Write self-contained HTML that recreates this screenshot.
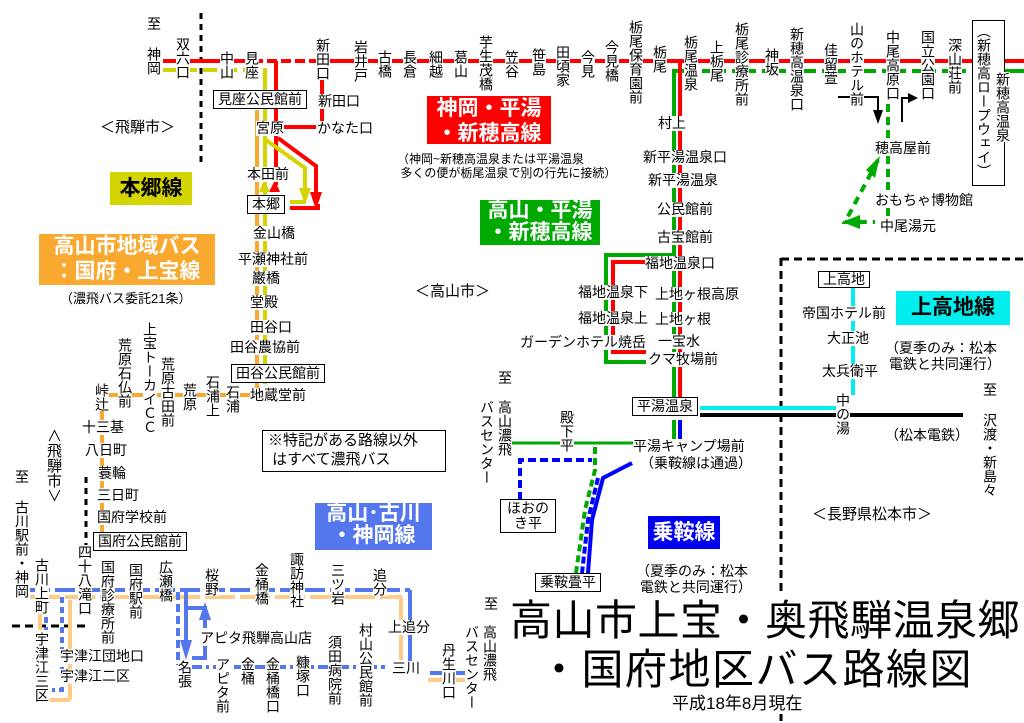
<!DOCTYPE html>
<html><head><meta charset="utf-8"><style>
body{margin:0;width:1024px;height:723px;background:#fff;position:relative;overflow:hidden}
.l{position:absolute;font:14px/15px "Liberation Sans","Noto Sans CJK JP",sans-serif;background:#fff;white-space:nowrap;color:#000}
.v{writing-mode:vertical-rl;text-orientation:upright;line-height:14px;width:14px}
.n{background:transparent}
.b{border:1px solid #000;padding:1px 4px}
.box{position:absolute;font:bold 21px/25px "Liberation Sans","Noto Sans CJK JP",sans-serif;text-align:center;color:#fff}
svg{position:absolute;left:0;top:0}
</style></head><body>
<svg width="1024" height="723" viewBox="0 0 1024 723">
<g fill="none" stroke-linecap="butt">
<line x1="201" y1="13" x2="201" y2="165" stroke="#000" stroke-width="3" stroke-dasharray="6,5"/>
<line x1="86" y1="477" x2="86" y2="592" stroke="#000" stroke-width="3" stroke-dasharray="6,5"/>
<line x1="12" y1="626" x2="85" y2="626" stroke="#000" stroke-width="3" stroke-dasharray="8,5"/>
<line x1="781" y1="258" x2="781" y2="723" stroke="#000" stroke-width="3" stroke-dasharray="8,5"/>
<line x1="781" y1="259" x2="1024" y2="259" stroke="#000" stroke-width="3" stroke-dasharray="8,5"/>
<line x1="163" y1="61" x2="1024" y2="61" stroke="#f00" stroke-width="4"/>
<line x1="263" y1="61" x2="323" y2="61" stroke="#fff" stroke-width="5" stroke-dasharray="4,10"/>
<line x1="163" y1="70" x2="267" y2="70" stroke="#d4d400" stroke-width="4" stroke-dasharray="14,6"/>
<polyline points="265,70 265,228" stroke="#d4d400" stroke-width="4"/>
<line x1="672" y1="71" x2="1024" y2="71" stroke="#0a0" stroke-width="4" stroke-dasharray="24,6"/>
<line x1="276" y1="61" x2="276" y2="185" stroke="#f00" stroke-width="4"/>
<line x1="322" y1="61" x2="322" y2="127" stroke="#f00" stroke-width="4"/>
<line x1="283" y1="127" x2="316" y2="127" stroke="#f00" stroke-width="4"/>
<polyline points="278,138 316,166 316,200" stroke="#f00" stroke-width="4"/>
<polygon points="310,192 322,192 316,210" fill="#f00"/>
<polyline points="290,208 318,208 318,204" stroke="#f00" stroke-width="4"/>
<polyline points="266,140 305,168 305,195" stroke="#d4d400" stroke-width="4"/>
<polygon points="299,188 311,188 305,204" fill="#d4d400"/>
<line x1="290" y1="202" x2="306" y2="202" stroke="#d4d400" stroke-width="4"/>
<polygon points="270,180 281,180 275,192" fill="#f00" transform="rotate(180 275 186)"/>
<polygon points="259,192 270,192 264,180" fill="#d4d400"/>
<line x1="257" y1="110" x2="257" y2="395" stroke="#f9a830" stroke-width="4"/>
<line x1="265" y1="215" x2="265" y2="384" stroke="#d4d400" stroke-width="4"/>
<line x1="100" y1="395" x2="257" y2="395" stroke="#f9a830" stroke-width="4"/>
<line x1="102" y1="395" x2="102" y2="540" stroke="#f9a830" stroke-width="4"/>
<line x1="674" y1="71" x2="674" y2="400" stroke="#0a0" stroke-width="4"/>
<line x1="680" y1="61" x2="680" y2="400" stroke="#f00" stroke-width="4"/>
<polyline points="672,255 606,255 606,362 646,362" stroke="#0a0" stroke-width="4"/>
<polyline points="660,262 613,262 613,352 646,352" stroke="#f00" stroke-width="4"/>
<line x1="674" y1="420" x2="674" y2="443" stroke="#0a0" stroke-width="4"/>
<line x1="680" y1="420" x2="680" y2="440" stroke="#00f" stroke-width="4"/>
<line x1="700" y1="408" x2="836" y2="408" stroke="#0ee" stroke-width="4"/>
<line x1="700" y1="415" x2="963" y2="415" stroke="#000" stroke-width="4"/>
<line x1="853" y1="288" x2="853" y2="395" stroke="#0ee" stroke-width="4"/>
<line x1="512" y1="443" x2="634" y2="443" stroke="#0a0" stroke-width="3"/>
<polyline points="520,500 520,460 592,460" stroke="#00f" stroke-width="4" stroke-dasharray="8,4"/>
<polyline points="595,447 595,470 585,510 576,573" stroke="#0a0" stroke-width="4" stroke-dasharray="7,4"/>
<polyline points="632,463 603,478 592,520 588,573" stroke="#00f" stroke-width="4"/>
<polyline points="598,478 588,520 582,573" stroke="#00f" stroke-width="4" stroke-dasharray="7,3"/>
<line x1="888" y1="104" x2="888" y2="222" stroke="#0a0" stroke-width="4" stroke-dasharray="8,5"/>
<polyline points="878,160 845,222 875,222" stroke="#0a0" stroke-width="4" stroke-dasharray="8,6"/>
<polygon points="880,156 866,170 875,178" fill="#0a0"/>
<polygon points="842,222 860,215 860,229" fill="#0a0"/>
<polyline points="838,97 878,97 878,112" stroke="#000" stroke-width="2"/>
<polygon points="873,110 883,110 878,124" fill="#000"/>
<polyline points="902,122 902,98 910,98" stroke="#000" stroke-width="2"/>
<polygon points="908,93 918,98 908,103" fill="#000"/>
<line x1="30" y1="590" x2="410" y2="590" stroke="#5577ee" stroke-width="4" stroke-dasharray="20,5"/>
<line x1="30" y1="597" x2="402" y2="597" stroke="#fc8" stroke-width="4" stroke-dasharray="30,5"/>
<line x1="410" y1="590" x2="410" y2="665" stroke="#5577ee" stroke-width="4"/>
<line x1="401" y1="597" x2="401" y2="660" stroke="#fc8" stroke-width="4"/>
<line x1="430" y1="673" x2="468" y2="673" stroke="#5577ee" stroke-width="4"/>
<line x1="428" y1="680" x2="468" y2="680" stroke="#fc8" stroke-width="4"/>
<line x1="40" y1="597" x2="40" y2="630" stroke="#fc8" stroke-width="4"/>
<line x1="46" y1="597" x2="46" y2="630" stroke="#5577ee" stroke-width="4" stroke-dasharray="6,4"/>
<line x1="70" y1="600" x2="70" y2="700" stroke="#fc8" stroke-width="4"/>
<polyline points="62,597 62,690 52,690" stroke="#5577ee" stroke-width="4" stroke-dasharray="6,4"/>
<line x1="50" y1="700" x2="70" y2="700" stroke="#fc8" stroke-width="4"/>
<line x1="178" y1="592" x2="178" y2="665" stroke="#5577ee" stroke-width="4" stroke-dasharray="8,4"/>
<line x1="186" y1="592" x2="186" y2="650" stroke="#5577ee" stroke-width="4"/>
<polygon points="180,640 192,640 186,660" fill="#5577ee"/>
<polyline points="186,608 205,608 205,628" stroke="#5577ee" stroke-width="4"/>
<polygon points="199,620 211,620 205,602" fill="#5577ee"/>
<polyline points="205,645 205,658 192,658" stroke="#5577ee" stroke-width="4"/>
<line x1="192" y1="667" x2="385" y2="667" stroke="#5577ee" stroke-width="4" stroke-dasharray="10,4,3,4"/>
</g>
</svg>

<div class="l" style="left:147px;top:17px">至</div>
<div class="l v" style="left:147px;top:47px">神岡</div>
<div class="l v" style="left:176px;top:37px">双六口</div>
<div class="l v" style="left:220px;top:51px">中山</div>
<div class="l v" style="left:245px;top:51px">見座</div>
<div class="l v" style="left:316px;top:38px">新田口</div>
<div class="l v" style="left:354px;top:40px">岩井戸</div>
<div class="l v" style="left:378px;top:50px">古橋</div>
<div class="l v" style="left:403px;top:50px">長倉</div>
<div class="l v" style="left:429px;top:50px">細越</div>
<div class="l v" style="left:454px;top:50px">葛山</div>
<div class="l v" style="left:479px;top:35px">芋生茂橋</div>
<div class="l v" style="left:505px;top:50px">笠谷</div>
<div class="l v" style="left:532px;top:48px">笹島</div>
<div class="l v" style="left:556px;top:45px">田頃家</div>
<div class="l v" style="left:581px;top:50px">今見</div>
<div class="l v" style="left:605px;top:40px">今見橋</div>
<div class="l v" style="left:629px;top:20px">栃尾保育園前</div>
<div class="l v" style="left:653px;top:45px">栃尾</div>
<div class="l v" style="left:684px;top:35px">栃尾温泉</div>
<div class="l v" style="left:710px;top:40px">上栃尾</div>
<div class="l v" style="left:735px;top:22px">栃尾診療所前</div>
<div class="l v" style="left:765px;top:48px">神坂</div>
<div class="l v" style="left:790px;top:27px">新穂高温泉口</div>
<div class="l v" style="left:824px;top:43px">佳留萱</div>
<div class="l v" style="left:850px;top:22px">山のホテル前</div>
<div class="l v" style="left:886px;top:30px">中尾高原口</div>
<div class="l v" style="left:921px;top:30px">国立公園口</div>
<div class="l v" style="left:948px;top:38px">深山荘前</div>
<div class="l" style="left:972px;top:20px;width:31px;height:164px;border:1px solid #000;padding:0"></div>
<div class="l v n" style="left:977px;top:24px">（新穂高ロープウェイ）</div>
<div class="l v" style="left:996px;top:72px">新穂高温泉</div>

<div class="l b" style="left:213px;top:90px">見座公民館前</div>
<div class="l" style="left:318px;top:94px">新田口</div>
<div class="l" style="left:256px;top:121px">宮原</div>
<div class="l" style="left:317px;top:121px">かなた口</div>
<div class="l" style="left:100px;top:120px;font-size:15px">＜飛騨市＞</div>
<div class="l" style="left:247px;top:167px">本田前</div>
<div class="l b" style="left:247px;top:195px">本郷</div>
<div class="l" style="left:253px;top:226px">金山橋</div>
<div class="l" style="left:238px;top:252px">平瀬神社前</div>
<div class="l" style="left:252px;top:271px">巌橋</div>
<div class="l" style="left:250px;top:295px">堂殿</div>
<div class="l" style="left:250px;top:320px">田谷口</div>
<div class="l" style="left:230px;top:340px">田谷農協前</div>
<div class="l b" style="left:231px;top:364px">田谷公民館前</div>
<div class="l" style="left:250px;top:388px">地蔵堂前</div>
<div class="l v" style="left:95px;top:383px">峠辻</div>
<div class="l v" style="left:118px;top:338px">荒原石仏前</div>
<div class="l v" style="left:143px;top:322px">上宝トーカイＣＣ</div>
<div class="l v" style="left:161px;top:357px">荒原古田前</div>
<div class="l v" style="left:183px;top:383px">荒原</div>
<div class="l v" style="left:206px;top:375px">石浦上</div>
<div class="l v" style="left:226px;top:385px">石浦</div>
<div class="l" style="left:82px;top:420px">十三基</div>
<div class="l" style="left:85px;top:443px">八日町</div>
<div class="l" style="left:98px;top:466px">蓑輪</div>
<div class="l" style="left:97px;top:488px">三日町</div>
<div class="l" style="left:97px;top:510px">国府学校前</div>
<div class="l b" style="left:93px;top:532px">国府公民館前</div>
<div class="l v" style="left:45px;top:428px;font-size:15px;width:15px">∧飛騨市∨</div>
<div class="l" style="left:15px;top:470px">至</div>
<div class="l v" style="left:15px;top:500px">古川駅前・神岡</div>

<div class="box" style="left:427px;top:96px;width:124px;height:48px;background:#f00">神岡・平湯<br>・新穂高線</div>
<div class="l" style="left:397px;top:152px;font-size:12px;line-height:14px">（神岡~新穂高温泉または平湯温泉<br>&nbsp;多くの便が栃尾温泉で別の行先に接続）</div>
<div class="box" style="left:110px;top:172px;width:82px;height:33px;line-height:33px;background:#d4d400;color:#000">本郷線</div>
<div class="box" style="left:39px;top:234px;width:176px;height:51px;background:#f9a830">高山市地域バス<br>：国府・上宝線</div>
<div class="l" style="left:60px;top:291px;font-size:13px">（濃飛バス委託21条）</div>
<div class="box" style="left:480px;top:200px;width:120px;height:45px;line-height:22px;background:#0a0">高山・平湯<br>・新穂高線</div>
<div class="l" style="left:415px;top:284px;font-size:15px">＜高山市＞</div>
<div class="l" style="left:262px;top:430px;width:172px;height:40px;border:1px solid #000;padding:0 5px;line-height:19px;font-size:15px">※特記がある路線以外<br>&nbsp;はすべて濃飛バス</div>
<div class="box" style="left:315px;top:503px;width:117px;height:47px;line-height:22px;background:#5577ee">高山･古川<br>・神岡線</div>
<div class="box" style="left:648px;top:516px;width:72px;height:33px;line-height:33px;background:#00e">乗鞍線</div>
<div class="l" style="left:636px;top:563px;line-height:16px">（夏季のみ：松本<br>&nbsp;電鉄と共同運行）</div>
<div class="box" style="left:896px;top:291px;width:114px;height:34px;line-height:34px;background:#0ee;color:#000">上高地線</div>
<div class="l" style="left:885px;top:340px;line-height:16px">（夏季のみ：松本<br>&nbsp;電鉄と共同運行）</div>
<div class="l" style="left:812px;top:507px;font-size:15px">＜長野県松本市＞</div>

<div class="l" style="left:658px;top:116px">村上</div>
<div class="l" style="left:643px;top:150px">新平湯温泉口</div>
<div class="l" style="left:648px;top:173px">新平湯温泉</div>
<div class="l" style="left:657px;top:202px">公民館前</div>
<div class="l" style="left:657px;top:230px">古宝館前</div>
<div class="l" style="left:645px;top:256px">福地温泉口</div>
<div class="l" style="left:655px;top:287px">上地ヶ根高原</div>
<div class="l" style="left:655px;top:312px">上地ヶ根</div>
<div class="l" style="left:658px;top:334px">一宝水</div>
<div class="l" style="left:648px;top:352px">クマ牧場前</div>
<div class="l" style="left:578px;top:285px">福地温泉下</div>
<div class="l" style="left:578px;top:311px">福地温泉上</div>
<div class="l" style="left:520px;top:335px">ガーデンホテル焼岳</div>
<div class="l b" style="left:632px;top:397px">平湯温泉</div>
<div class="l b" style="left:818px;top:271px;padding:0 4px">上高地</div>
<div class="l" style="left:802px;top:306px">帝国ホテル前</div>
<div class="l" style="left:827px;top:331px">大正池</div>
<div class="l" style="left:822px;top:364px">太兵衛平</div>
<div class="l v" style="left:836px;top:393px">中の湯</div>
<div class="l" style="left:885px;top:428px">（松本電鉄）</div>
<div class="l" style="left:983px;top:383px">至</div>
<div class="l v" style="left:983px;top:413px">沢渡・新島々</div>
<div class="l" style="left:633px;top:439px">平湯キャンプ場前</div>
<div class="l" style="left:640px;top:456px">（乗鞍線は通過）</div>
<div class="l v" style="left:560px;top:410px">殿下平</div>
<div class="l" style="left:498px;top:371px">至</div>
<div class="l v" style="left:498px;top:400px">高山濃飛</div>
<div class="l v" style="left:480px;top:400px">バスセンター</div>
<div class="l b" style="left:500px;top:499px;width:46px;text-align:center;line-height:15px">ほおの<br>き平</div>
<div class="l b" style="left:535px;top:573px">乗鞍畳平</div>
<div class="l" style="left:875px;top:141px">穂高屋前</div>
<div class="l" style="left:875px;top:193px">おもちゃ博物館</div>
<div class="l" style="left:880px;top:219px">中尾湯元</div>

<div class="l v" style="left:35px;top:558px">古川上町</div>
<div class="l v" style="left:78px;top:545px">四十八滝口</div>
<div class="l v" style="left:101px;top:560px">国府診療所前</div>
<div class="l v" style="left:129px;top:563px">国府駅前</div>
<div class="l v" style="left:159px;top:560px">広瀬橋</div>
<div class="l v" style="left:205px;top:568px">桜野</div>
<div class="l v" style="left:255px;top:563px">金桶橋</div>
<div class="l v" style="left:290px;top:552px">諏訪神社</div>
<div class="l v" style="left:331px;top:563px">三ツ岩</div>
<div class="l v" style="left:373px;top:568px">追分</div>
<div class="l" style="left:388px;top:620px">上追分</div>
<div class="l" style="left:392px;top:661px">三川</div>
<div class="l v" style="left:442px;top:643px">丹生川口</div>
<div class="l" style="left:484px;top:597px">至</div>
<div class="l v" style="left:483px;top:625px">高山濃飛</div>
<div class="l v" style="left:465px;top:625px">バスセンター</div>
<div class="l v" style="left:35px;top:632px">宇津江三区</div>
<div class="l" style="left:60px;top:649px">宇津江団地口</div>
<div class="l" style="left:60px;top:669px">宇津江二区</div>
<div class="l v" style="left:178px;top:660px">名張</div>
<div class="l" style="left:200px;top:631px">アピタ飛騨高山店</div>
<div class="l v" style="left:216px;top:657px">アピタ前</div>
<div class="l v" style="left:241px;top:657px">金桶</div>
<div class="l v" style="left:266px;top:657px">金桶橋口</div>
<div class="l v" style="left:296px;top:655px">糠塚口</div>
<div class="l v" style="left:328px;top:635px">須田病院前</div>
<div class="l v" style="left:359px;top:623px">村山公民館前</div>

<div class="l" style="left:510px;top:596px;font-size:42px;line-height:50px;letter-spacing:0.5px">高山市上宝・奥飛騨温泉郷</div>
<div class="l" style="left:538px;top:645px;font-size:42px;line-height:50px;letter-spacing:1.5px">・国府地区バス路線図</div>
<div class="l" style="left:672px;top:694px;font-size:17px;line-height:20px">平成18年8月現在</div>
</body></html>
